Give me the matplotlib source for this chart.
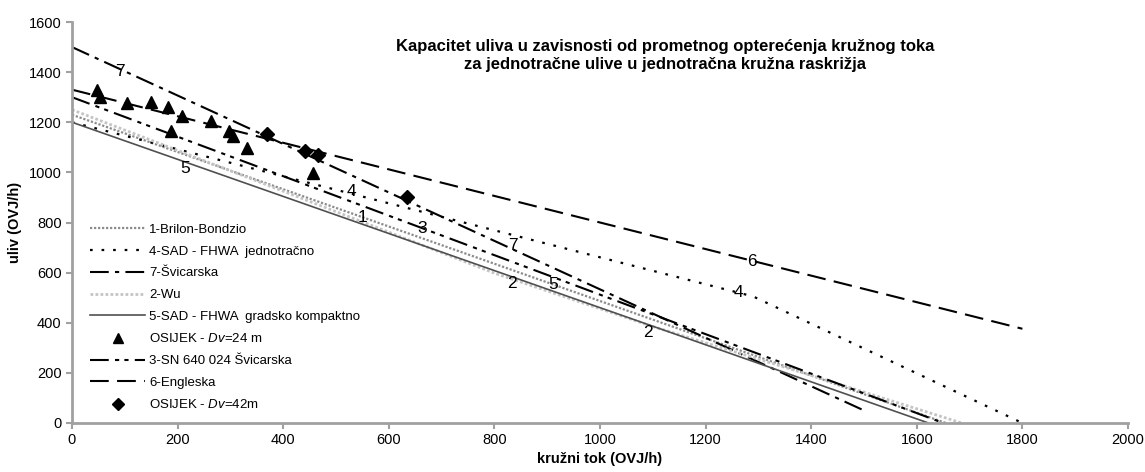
import numpy as np
import matplotlib.pyplot as plt

plt.rcParams['font.family'] = ['Liberation Sans', 'DejaVu Sans']
plt.rcParams['mathtext.fontset'] = 'custom'
plt.rcParams['mathtext.it'] = 'Liberation Sans:italic'
plt.rcParams['mathtext.rm'] = 'Liberation Sans'

# podaci ocitani s grafa
x1 = [0, 1655]
y1 = [1230, 0]
x4 = [0, 900, 1290, 1800]
y4 = [1200, 715, 505, 0]
x7 = [0, 1500]
y7 = [1500, 50]
x2 = [0, 400, 800, 1100, 1400, 1685]
y2 = [1250, 925, 598, 385, 190, 0]
x5 = [0, 1622]
y5 = [1200, 0]
x3 = [0, 1650]
y3 = [1300, 0]
x6 = [0, 1800]
y6 = [1330, 376]

osijek24_x = [47, 53, 104, 150, 182, 208, 187, 263, 298, 305, 331, 457]
osijek24_y = [1329, 1302, 1276, 1282, 1262, 1225, 1166, 1206, 1166, 1145, 1096, 999]
osijek42_x = [369, 441, 466, 634]
osijek42_y = [1153, 1087, 1069, 903]

# oznake na krivuljama
lbl_txt = ['7', '5', '4', '1', '3', '7', '2', '5', '2', '6', '4']
lbl_x = [91, 214, 530, 551, 663, 835, 833, 911, 1091, 1288, 1263]
lbl_y = [1402, 1017, 923, 818, 778, 710, 558, 551, 363, 646, 519]

fig = plt.figure(figsize=(11.45, 4.72), dpi=100)
ax = fig.add_axes([72/1145, 49/472, 1056/1145, 401/472])

ax.plot(x1, y1, color='#8c8c8c', lw=1.6, ls=(0, (1, 0.8)), label='1-Brilon-Bondzio')
ax.plot(x4, y4, color='black', lw=1.6, ls=(0, (1.2, 4)), label='4-SAD - FHWA  jednotračno')
ax.plot(x7, y7, color='black', lw=1.5, ls=(0, (9, 3, 2, 3)), label='7-Švicarska')
ax.plot(x2, y2, color='#c4c4c4', lw=2, ls=(0, (1, 0.8)), label='2-Wu')
ax.plot(x5, y5, color='#505050', lw=1.2, label='5-SAD - FHWA  gradsko kompaktno')
ax.plot(osijek24_x, osijek24_y, ls='none', marker='^', ms=9, color='black',
        label='OSIJEK - $\\it{Dv}$=24 m')
ax.plot(x3, y3, color='black', lw=1.5, ls=(0, (9, 3, 2, 2.5, 2, 3)), label='3-SN 640 024 Švicarska')
ax.plot(x6, y6, color='black', lw=1.5, ls=(0, (9, 4)), label='6-Engleska')
ax.plot(osijek42_x, osijek42_y, ls='none', marker='D', ms=7, color='black',
        label='OSIJEK - $\\it{Dv}$=42m')

for t, xx, yy in zip(lbl_txt, lbl_x, lbl_y):
    ax.text(xx, yy, t, fontsize=12.5, ha='center', va='center')

ax.set_xlim(0, 2000)
ax.set_ylim(0, 1600)
ax.set_xticks(np.arange(0, 2001, 200))
ax.set_yticks(np.arange(0, 1601, 200))
ax.tick_params(labelsize=10.5, direction='out', length=4, width=1.5, color='#a0a0a0')
for s in ['top', 'right']:
    ax.spines[s].set_visible(False)
for s in ['left', 'bottom']:
    ax.spines[s].set_color('#a0a0a0')
    ax.spines[s].set_linewidth(2)

ax.set_xlabel('kružni tok (OVJ/h)', fontsize=10.5, fontweight='bold', labelpad=3)
ax.set_ylabel('uliv (OVJ/h)', fontsize=10.5, fontweight='bold', labelpad=5)

ax.text(0.5616, 0.916, 'Kapacitet uliva u zavisnosti od prometnog opterećenja kružnog toka\n'
        'za jednotračne ulive u jednotračna kružna raskrižja',
        transform=ax.transAxes, ha='center', va='center', fontsize=12,
        fontweight='bold', linespacing=1.25)

ax.legend(loc='upper left', bbox_to_anchor=(0.012, 0.51), frameon=False,
          fontsize=9.5, handlelength=4.2, handletextpad=0.3, labelspacing=0.72,
          borderaxespad=0, markerscale=0.85)

fig.savefig('out.png', dpi=100)
